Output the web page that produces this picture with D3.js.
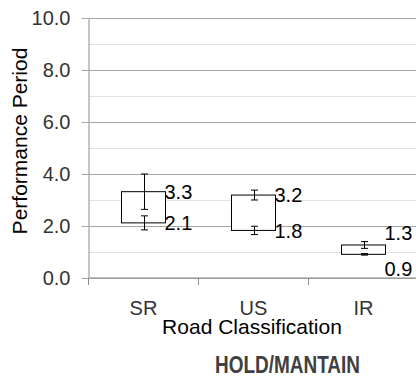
<!DOCTYPE html>
<html>
<head>
<meta charset="utf-8">
<script src="https://cdn.jsdelivr.net/npm/d3@7"></script>
<style>
  body { margin: 0; background: #fff; }
  text { font-family: "Liberation Sans", Arial, sans-serif; }
</style>
</head>
<body>
<script>
// chart values
const categories = ['SR', 'US', 'IR']
const highValues = [3.32, 3.19, 1.27]   // top of box
const lowValues = [2.12, 1.83, 0.91]    // bottom of box
const highErr = [0.68, 0.19, 0.13]
const lowErr = [0.27, 0.16, 0.03]
const yTicks = [0, 2, 4, 6, 8, 10]
const yMinor = [1, 3, 5, 7, 9]

//size of the picture
const m = {
    width: 416,
    height: 381,
    left: 88.5,
    right: 418.5,
    top: 18,
    bottom: 278
}

const svg = d3.select('body').append('svg')
    .attr('width', m.width)
    .attr('height', m.height)

//scales
const x = d3.scaleBand()
    .domain(categories)
    .range([m.left, m.right])
    .padding(0)

const y = d3.scaleLinear()
    .domain([0, 10])
    .range([m.bottom, m.top])

const boxW = x.bandwidth() * 0.4

//minor gridlines (dotted)
svg.append('g').selectAll('line')
    .data(yMinor)
    .enter()
    .append('line')
        .attr('x1', m.left + 1)
        .attr('x2', m.right)
        .attr('y1', d => Math.round(y(d)) + 0.5)
        .attr('y2', d => Math.round(y(d)) + 0.5)
        .attr('stroke', '#c4c4c4')
        .attr('stroke-dasharray', '1,1')

//major gridlines + y axis
const yAxis = svg.append('g')
    .attr('transform', `translate(${m.left},0)`)
    .call(d3.axisLeft(y)
        .tickValues(yTicks)
        .tickSize(-(m.right - m.left))
        .tickFormat(d3.format('.1f')))
yAxis.select('.domain').attr('stroke', '#8c8c8c')
yAxis.selectAll('.tick line').attr('stroke', '#a6a6a6')
yAxis.selectAll('.tick').append('line')
    .attr('x1', -7).attr('x2', 0)
    .attr('stroke', '#a6a6a6')
yAxis.selectAll('.tick text')
    .attr('x', -18)
    .attr('dy', '0.32em')
    .attr('font-size', '20px')
    .attr('fill', '#333')
    .style('font-family', '"Liberation Sans", Arial, sans-serif')

//x axis with ticks between categories
svg.append('line')
    .attr('x1', m.left).attr('x2', m.right)
    .attr('y1', m.bottom).attr('y2', m.bottom)
    .attr('stroke', '#8c8c8c')
svg.append('g').selectAll('line')
    .data(categories.concat(['end']))
    .enter()
    .append('line')
        .attr('x1', (d, i) => m.left + i * x.bandwidth())
        .attr('x2', (d, i) => m.left + i * x.bandwidth())
        .attr('y1', m.bottom)
        .attr('y2', m.bottom + 7)
        .attr('stroke', '#8c8c8c')

//category labels
svg.append('g').selectAll('text')
    .data(categories)
    .enter()
    .append('text')
        .attr('x', d => x(d) + x.bandwidth() / 2)
        .attr('y', 315)
        .attr('text-anchor', 'middle')
        .attr('font-size', '20px')
        .attr('fill', '#333')
        .text(d => d)

//boxes
const rows = categories.map((c, i) => ({
    cat: c, hi: highValues[i], lo: lowValues[i], hiErr: highErr[i], loErr: lowErr[i]
}))

const g = svg.append('g')

g.selectAll('rect')
    .data(rows)
    .enter()
    .append('rect')
        .attr('x', d => x(d.cat) + (x.bandwidth() - boxW) / 2)
        .attr('y', d => y(d.hi))
        .attr('width', boxW)
        .attr('height', d => y(d.lo) - y(d.hi))
        .attr('fill', '#fff')
        .attr('stroke', '#000')

//error bars on both ends of each box
const errs = []
rows.forEach(d => {
    errs.push({ cat: d.cat, v: d.hi, e: d.hiErr })
    errs.push({ cat: d.cat, v: d.lo, e: d.loErr })
})

const eb = g.selectAll('.err')
    .data(errs)
    .enter()
    .append('g')
        .attr('class', 'err')
        .attr('transform', d => `translate(${Math.round(x(d.cat) + x.bandwidth() / 2) + 0.5},0)`)
eb.append('line')
    .attr('y1', d => y(d.v + d.e))
    .attr('y2', d => y(d.v - d.e))
    .attr('stroke', '#000')
eb.append('line')
    .attr('x1', -3.5).attr('x2', 3.5)
    .attr('y1', d => y(d.v + d.e))
    .attr('y2', d => y(d.v + d.e))
    .attr('stroke', '#000')
eb.append('line')
    .attr('x1', -3.5).attr('x2', 3.5)
    .attr('y1', d => y(d.v - d.e))
    .attr('y2', d => y(d.v - d.e))
    .attr('stroke', '#000')

//data labels, pushed outside when the box is too thin
const labels = []
rows.forEach(d => {
    const thin = y(d.lo) - y(d.hi) < 20
    labels.push({ cat: d.cat, v: d.hi, shift: thin ? -12 : 0 })
    labels.push({ cat: d.cat, v: d.lo, shift: thin ? 14 : 0 })
})

g.selectAll('.lbl')
    .data(labels)
    .enter()
    .append('text')
        .attr('class', 'lbl')
        .attr('x', d => x(d.cat) + (x.bandwidth() + boxW) / 2 - 1)
        .attr('y', d => y(d.v) + d.shift)
        .attr('dy', '0.36em')
        .attr('font-size', '20px')
        .attr('fill', '#000')
        .text(d => d3.format('.1f')(d.v))

//axis titles
svg.append('text')
    .attr('transform', 'translate(27,141) rotate(-90)')
    .attr('text-anchor', 'middle')
    .attr('font-size', '21px')
    .attr('fill', '#000')
    .text('Performance Period')

svg.append('text')
    .attr('x', 252)
    .attr('y', 334)
    .attr('text-anchor', 'middle')
    .attr('font-size', '21px')
    .attr('fill', '#000')
    .text('Road Classification')

//caption under the chart
svg.append('text')
    .attr('x', 215)
    .attr('y', 373)
    .attr('font-size', '23px')
    .attr('font-weight', 'bold')
    .attr('fill', '#404040')
    .attr('textLength', 145)
    .attr('lengthAdjust', 'spacingAndGlyphs')
    .text('HOLD/MANTAIN')
</script>
</body>
</html>
